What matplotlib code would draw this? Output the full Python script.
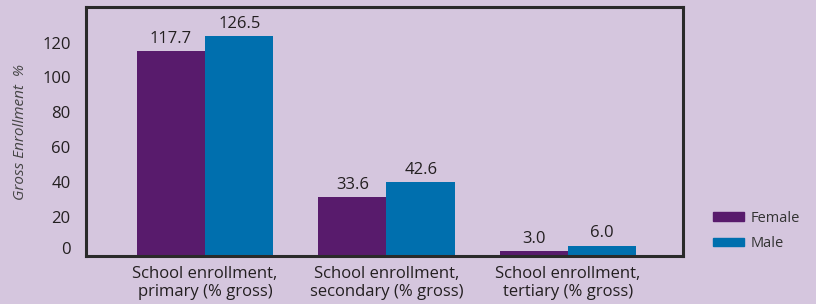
import matplotlib
matplotlib.use("Agg")
import matplotlib.pyplot as plt
import matplotlib.transforms as mtransforms
from matplotlib.patches import Patch
import numpy as np

categories = ["School enrollment,\nprimary (% gross)",
              "School enrollment,\nsecondary (% gross)",
              "School enrollment,\ntertiary (% gross)"]
female = [117.7, 33.6, 3.0]
male = [126.5, 42.6, 6.0]
series_names = ["Female", "Male"]
yticks = [0, 20, 40, 60, 80, 100, 120]

BG = "#d5c6de"
C_F = "#581b6c"
C_M = "#006fae"
TXT = "#231f20"

plt.rcParams['font.family'] = ['Open Sans', 'DejaVu Sans']

fig = plt.figure(figsize=(8.16, 3.04), dpi=100, facecolor=BG)
ax = fig.add_axes([86/816, 48/304, (683-86)/816, (256-7)/304])
ax.set_facecolor(BG)

x = np.arange(len(categories))
w = 0.377
bf = ax.bar(x - w/2, female, w, color=C_F, label=series_names[0])
bm = ax.bar(x + w/2, male, w, color=C_M, label=series_names[1])

for rects, vals in ((bf, female), (bm, male)):
    for r, v in zip(rects, vals):
        ax.annotate(f"{v:.1f}", (r.get_x() + r.get_width()/2, r.get_height()),
                    xytext=(0, 3), textcoords="offset points",
                    ha="center", va="bottom", fontsize=12, color=TXT)

ax.set_xlim(-0.656, 2.634)
ax.set_ylim(0, 143)
ax.set_xticks(x)
ax.set_xticklabels(categories, fontsize=12, color=TXT, linespacing=1.15)
ax.set_yticks(yticks)
ax.set_yticklabels([str(t) for t in yticks], fontsize=12, color=TXT)
ax.tick_params(axis="both", length=0)
ax.tick_params(axis="y", pad=11)
ax.tick_params(axis="x", pad=7)

for lab, t in zip(ax.get_yticklabels(), yticks):
    dy = 8 if t == 0 else 4.5
    lab.set_transform(lab.get_transform() + mtransforms.ScaledTranslation(0, dy/100, fig.dpi_scale_trans))

for s in ax.spines.values():
    s.set_color("#2a2a2a")
    s.set_linewidth(2.2)

ax.set_ylabel("Gross Enrollment  %", fontsize=11, style="italic", color="#444444", labelpad=10)

handles = [Patch(color=C_F), Patch(color=C_M)]
fig.legend(handles, series_names, loc="upper left",
           bbox_to_anchor=(713/816, 1 - 211/304), frameon=False,
           fontsize=10.5, handlelength=2.1, handleheight=0.55, handletextpad=0.5,
           labelspacing=0.7, borderpad=0, borderaxespad=0, labelcolor="#333333")

fig.savefig("out.png", dpi=100, facecolor=BG)
